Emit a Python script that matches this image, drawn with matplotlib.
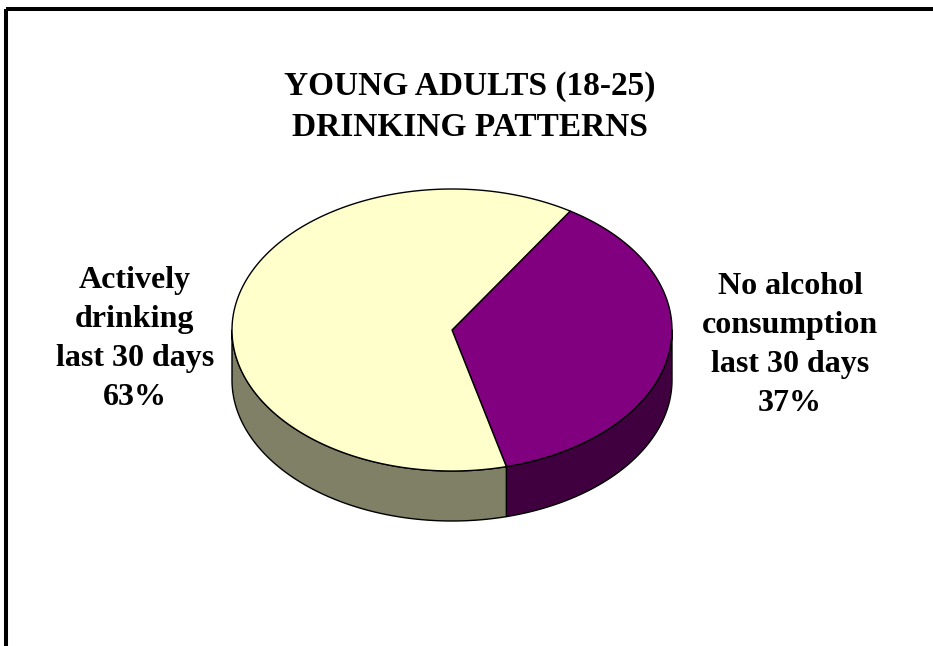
import numpy as np
import matplotlib
matplotlib.use("Agg")
import matplotlib.pyplot as plt
from matplotlib.patches import Polygon, Rectangle

# data
categories = ["No alcohol\nconsumption\nlast 30 days", "Actively\ndrinking\nlast 30 days"]
shares = [37, 63]
top_colors = ["#800080", "#FFFFCC"]
side_colors = ["#400040", "#808066"]
title = "YOUNG ADULTS (18-25)\nDRINKING PATTERNS"

# pie geometry in pixel units
cx, cy = 452, 330
rx, ry = 220, 141
depth = 50
start_deg = 57.5  # first slice starts here and runs clockwise

W, H = 933, 646
fig = plt.figure(figsize=(W / 100, H / 100), dpi=100)
ax = fig.add_axes([0, 0, 1, 1])
ax.set_xlim(0, W)
ax.set_ylim(H, 0)
ax.axis("off")

# frame, cut at right and bottom like the source
ax.add_patch(Rectangle((6, 9.3), W + 20, H + 20, fill=False, lw=2.9, ec="black"))


def rim(t0, t1, n=200, dy=0.0):
    t = np.radians(np.linspace(t0, t1, n))
    return np.column_stack([cx + rx * np.cos(t), cy - ry * np.sin(t) + dy])


# slice angle ranges (clockwise -> decreasing angle)
fracs = np.array(shares, dtype=float) / sum(shares)
bounds = start_deg - 360 * np.concatenate([[0], np.cumsum(fracs)])
slices = [(bounds[i + 1], bounds[i]) for i in range(len(shares))]

# side walls: only the front half (angle in 180..360 mod 360) shows
for (a0, a1), col in zip(slices, side_colors):
    for k in (-1, 0, 1):
        lo = max(a0, 180 + 360 * k)
        hi = min(a1, 360 + 360 * k)
        if hi <= lo:
            continue
        top = rim(lo, hi)
        bot = rim(hi, lo, dy=depth)
        ax.add_patch(Polygon(np.vstack([top, bot]), closed=True,
                             fc=col, ec="black", lw=1.0, joinstyle="round"))

# top faces
for (a0, a1), col in zip(slices, top_colors):
    pts = np.vstack([[cx, cy], rim(a0, a1)])
    ax.add_patch(Polygon(pts, closed=True, fc=col, ec="black", lw=1.0,
                         joinstyle="round"))

font = dict(family="Liberation Serif", weight="bold")
ax.text(470, 107, title, ha="center", va="center", fontsize=24,
        linespacing=1.4, **font)

label_pos = [(790, 345), (135, 339)]
for name, val, (lx, ly) in zip(categories, shares, label_pos):
    ax.text(lx, ly, f"{name}\n{val}%", ha="center", va="center",
            multialignment="center", fontsize=23, linespacing=1.45, **font)

fig.savefig("out.png", dpi=100, facecolor="white")
